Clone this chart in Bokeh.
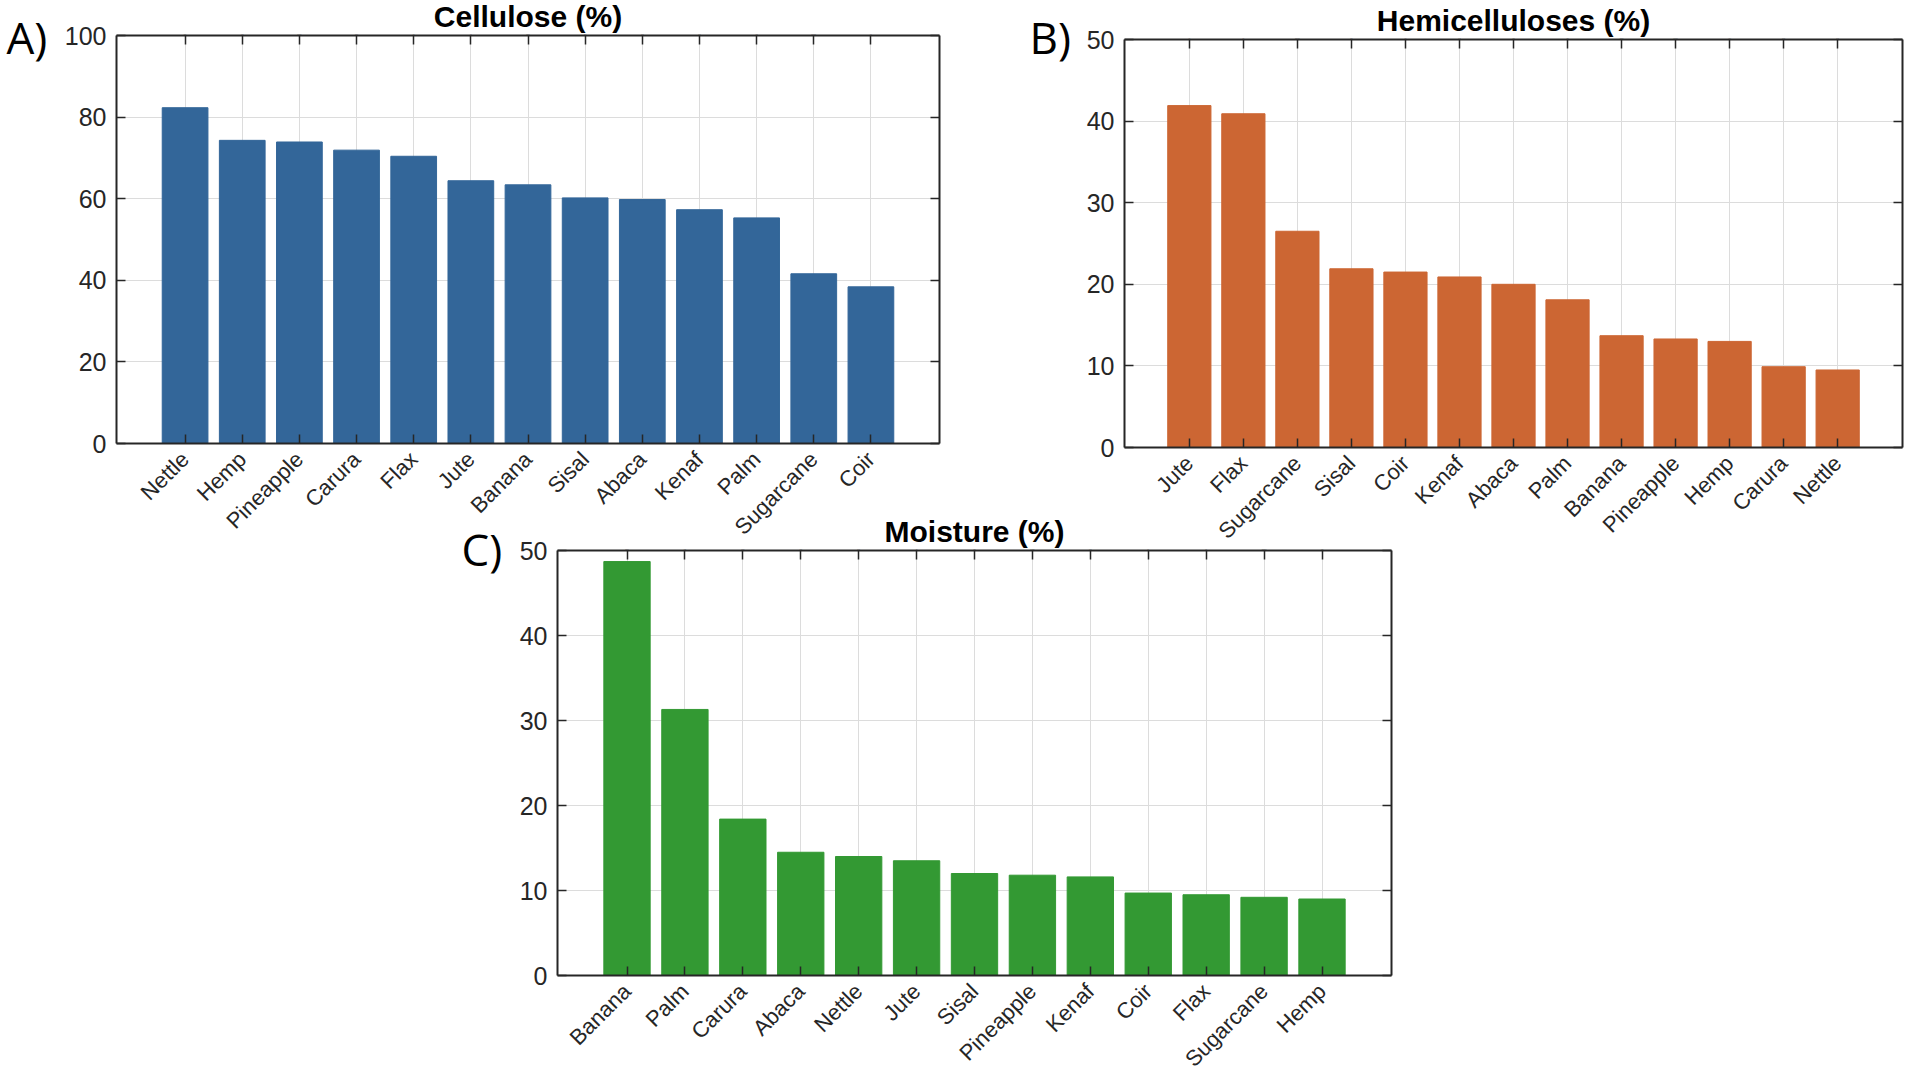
from math import pi
from bokeh.plotting import figure
from bokeh.models import (FactorRange, Range1d, LinearAxis, CategoricalAxis,
                          FixedTicker, Label, ColumnDataSource)
from bokeh.layouts import column, row
from bokeh.embed import file_html
from bokeh.resources import INLINE

# ---------------- data ----------------
cellulose_fibers = ["Nettle", "Hemp", "Pineapple", "Carura", "Flax", "Jute", "Banana",
                    "Sisal", "Abaca", "Kenaf", "Palm", "Sugarcane", "Coir"]
cellulose_values = [82.3, 74.3, 73.9, 71.9, 70.4, 64.4, 63.4, 60.2, 59.8, 57.3, 55.3, 41.6, 38.4]

hemi_fibers = ["Jute", "Flax", "Sugarcane", "Sisal", "Coir", "Kenaf", "Abaca", "Palm",
               "Banana", "Pineapple", "Hemp", "Carura", "Nettle"]
hemi_values = [41.9, 40.9, 26.5, 21.9, 21.5, 20.9, 20.0, 18.1, 13.7, 13.3, 13.0, 9.9, 9.5]

moist_fibers = ["Banana", "Palm", "Carura", "Abaca", "Nettle", "Jute", "Sisal", "Pineapple",
                "Kenaf", "Coir", "Flax", "Sugarcane", "Hemp"]
moist_values = [48.7, 31.3, 18.4, 14.5, 14.0, 13.5, 12.0, 11.8, 11.6, 9.7, 9.5, 9.2, 9.0]

cellulose_ticks = [0, 20, 40, 60, 80, 100]
hemi_ticks = [0, 10, 20, 30, 40, 50]
moist_ticks = [0, 10, 20, 30, 40, 50]

titles = ["Cellulose (%)", "Hemicelluloses (%)", "Moisture (%)"]
tags = ["A)", "B)", "C)"]

AX = "#262626"
GRID = "#dcdcdc"
FONT = "Liberation Sans"


def style_axis(ax):
    ax.axis_line_color = AX
    ax.axis_line_width = 2
    ax.major_tick_in = 9
    ax.major_tick_out = 0
    ax.major_tick_line_color = AX
    ax.major_tick_line_width = 1.5
    ax.minor_tick_in = 0
    ax.minor_tick_out = 0
    ax.minor_tick_line_color = None


def panel(fibers, values, ticks, color, fw, fh, bl, br, bt, bb):
    ymax = ticks[-1]
    p = figure(x_range=FactorRange(factors=fibers, range_padding=0.7,
                                   range_padding_units="absolute"),
               y_range=Range1d(0, ymax),
               frame_width=fw, frame_height=fh,
               min_border_left=bl, min_border_right=br,
               min_border_top=bt, min_border_bottom=bb,
               output_backend="svg", toolbar_location=None)
    p.outline_line_color = None
    p.background_fill_color = "white"
    src = ColumnDataSource(dict(fiber=fibers, value=values))
    p.vbar(x="fiber", top="value", bottom=0, width=0.8, source=src,
           fill_color=color, line_color=color, line_width=1)

    xa = p.below[0]
    ya = p.left[0]
    ya.ticker = FixedTicker(ticks=ticks)
    for ax in (xa, ya):
        style_axis(ax)
        ax.major_label_text_font = FONT
        ax.major_label_text_color = AX
    ya.major_label_text_font_size = "25px"
    ya.major_label_standoff = 10
    xa.major_label_text_font_size = "22px"
    xa.major_label_orientation = pi / 4
    xa.major_label_standoff = 12

    ra = LinearAxis(ticker=FixedTicker(ticks=ticks),
                    major_label_overrides={t: "" for t in ticks},
                    major_label_standoff=0, major_label_text_font_size="1px")
    style_axis(ra)
    p.add_layout(ra, "right")
    ta = CategoricalAxis(major_label_overrides={f: "" for f in fibers},
                         major_label_standoff=0, major_label_text_font_size="1px")
    style_axis(ta)
    p.add_layout(ta, "above")

    p.xgrid.grid_line_color = GRID
    p.ygrid.grid_line_color = GRID
    p.ygrid.ticker = FixedTicker(ticks=ticks)
    return p


pa = panel(cellulose_fibers, cellulose_values, cellulose_ticks, "#336699",
           fw=823, fh=408, bl=116, br=20, bt=35, bb=115)
pb = panel(hemi_fibers, hemi_values, hemi_ticks, "#CC6633",
           fw=778, fh=408, bl=165, br=4, bt=39, bb=111)
pc = panel(moist_fibers, moist_values, moist_ticks, "#339933",
           fw=834, fh=425, bl=557, br=20, bt=10, bb=110)
pc.border_fill_color = None

# transparent overlay carrying the panel titles and panel tags (page pixel space)
W, H = 1906, 1085
ov = figure(x_range=Range1d(0, W), y_range=Range1d(H, 0),
            frame_width=W, frame_height=H,
            min_border_left=0, min_border_right=0, min_border_top=0, min_border_bottom=0,
            x_axis_type=None, y_axis_type=None,
            output_backend="svg", toolbar_location=None)
ov.grid.visible = False
ov.outline_line_color = None
ov.background_fill_color = None
ov.border_fill_color = None

title_pos = [(527.5, 16), (1513, 20), (974, 531)]
tag_pos = [(6, 36), (1029, 36), (461, 548)]
for t, (x, y) in zip(titles, title_pos):
    ov.add_layout(Label(x=x, y=y, text=t, text_align="center",
                        text_baseline="alphabetic", text_font=FONT,
                        text_font_style="bold", text_font_size="30px",
                        text_color="black"))
for t, (x, y) in zip(tags, tag_pos):
    ov.add_layout(Label(x=x, y=y, text=t, text_align="left",
                        text_baseline="alphabetic", text_font="Open Sans",
                        text_font_size="44px", text_color="black"))

# nested wrappers keep each panel's frame independent of its neighbours
row_ab = row(column(pa), column(pb))
row_c = row(pc, margin=(-18, 0, 0, 0))
row_ov = row(ov, margin=(-H, 0, 0, 0))
layout = column(row_ab, row_c, row_ov)

with open("out.html", "w") as f:
    f.write(file_html(layout, INLINE))
